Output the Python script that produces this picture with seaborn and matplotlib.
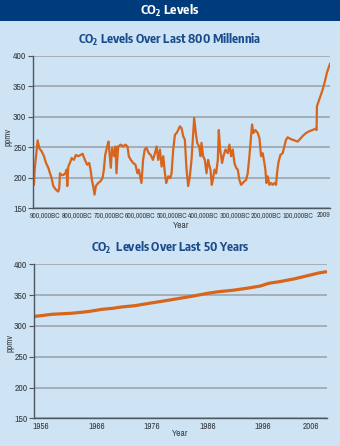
import matplotlib
matplotlib.use("Agg")
import matplotlib.pyplot as plt
import seaborn as sns
import pandas as pd
from matplotlib.patches import Rectangle

# ---------------- data ----------------
# Top chart: CO2 over last 800 millennia (year, negative = BC)
long_years = [
    -936800, -934700, -928300, -925200, -919900, -912500, -905100, -898800, -891400, -886100,
    -880900, -875600, -867200, -859800, -856600, -854500, -849200, -844000, -837600, -833400,
    -831300, -828100, -822800, -817600, -810200, -803900, -796500, -789100, -782700, -775400,
    -768000, -761700, -757400, -753200, -749000, -744800, -740600, -733200, -725800, -719500,
    -715200, -711000, -704700, -700500, -696300, -693100, -688900, -682600, -678300, -675200,
    -669900, -661400, -654100, -646700, -640300, -636100, -629800, -622400, -615000, -608700,
    -604500, -600300, -596000, -590800, -585500, -580300, -572900, -566500, -559500, -553200,
    -548000, -542700, -537400, -532100, -526900, -521600, -517300, -511000, -504700, -500500,
    -495200, -489900, -484600, -479400, -474100, -468800, -463600, -458300, -453000, -447700,
    -442500, -437200, -431900, -428800, -423500, -419300, -413000, -408700, -405600, -400300,
    -395000, -389700, -384500, -381300, -377100, -372900, -369700, -364400, -359100, -353800,
    -350700, -346400, -340100, -335900, -329600, -322200, -316900, -311600, -306400, -301100,
    -295800, -290500, -285300, -280000, -274700, -269400, -264100, -258900, -253600, -248300,
    -245200, -240900, -234600, -227200, -221900, -216600, -211400, -206100, -202900, -199700,
    -195500, -190200, -184900, -179700, -174400, -169100, -166000, -161800, -155500, -148100,
    -142800, -137500, -132300, -121700, -111200, -100600, -95400, -84800, -74300, -63700,
    -53200, -44700, -40500, -39400, -32000, -21500, -14100, -7800, 2009,
]
long_ppmv = [
    188, 213, 246, 261, 248, 243, 235, 224, 216, 207,
    199, 186, 180, 177, 183, 207, 204, 204, 207, 213,
    186, 218, 224, 232, 229, 237, 235, 237, 239, 229,
    221, 224, 213, 196, 186, 172, 186, 191, 194, 199,
    213, 237, 251, 259, 235, 216, 249, 235, 251, 207,
    251, 254, 251, 254, 251, 235, 229, 224, 221, 207,
    213, 202, 191, 229, 246, 249, 240, 237, 229, 240,
    251, 229, 246, 218, 235, 207, 191, 202, 199, 207,
    246, 270, 273, 278, 284, 281, 268, 262, 213, 186,
    202, 229, 273, 298, 273, 257, 251, 235, 257, 235,
    229, 207, 229, 221, 213, 188, 196, 213, 207, 229,
    278, 246, 224, 235, 246, 240, 254, 235, 246, 224,
    216, 213, 196, 188, 191, 194, 196, 207, 235, 268,
    287, 273, 278, 273, 265, 235, 240, 224, 213, 191,
    202, 188, 191, 188, 191, 188, 207, 224, 237, 240,
    251, 262, 266, 263, 261, 259, 262, 268, 273, 276,
    278, 280, 278, 317, 328, 344, 358, 372, 387,
]
long_ticks = [-900000, -800000, -700000, -600000, -500000, -400000, -300000, -200000, -100000, 2009]
long_tick_labels = ["900,000BC", "800,000BC", "700,000BC", "600,000BC", "500,000BC",
                    "400,000BC", "300,000BC", "200,000BC", "100,000BC", "2009"]

# Bottom chart: CO2 over last 50 years
recent_years = [1955, 1958, 1961.5, 1964.5, 1967, 1969, 1970.5, 1973, 1975.5, 1978.5,
                1981, 1983.5, 1986, 1988, 1990.5, 1993, 1995.5, 1997, 1999, 2001.5,
                2004, 2006, 2007.4]
recent_ppmv = [315.5, 318.8, 320.5, 323.2, 326.9, 328.6, 330.7, 332.9, 336.7, 341.0,
               344.8, 348.6, 352.9, 355.6, 357.8, 361.0, 364.8, 369.2, 371.9, 376.2,
               381.6, 386.0, 388.0]
recent_ticks = [1956, 1966, 1976, 1986, 1996, 2006]

y_ticks = [150, 200, 250, 300, 350, 400]

# ---------------- style ----------------
BG = "#cee3f3"
HEADER = "#003b7c"
TITLE_C = "#1a4b8c"
LINE_C = "#d8651c"
GRID_C = "#a0aab3"
SPINE_C = "#4d5760"
TEXT_C = "#3a3f45"
FAM = ["Encode Sans Condensed", "DejaVu Sans"]
NARROW = ["Archivo Narrow", "Encode Sans Condensed", "DejaVu Sans"]

sns.set_style("white")
plt.rcParams["font.family"] = FAM
plt.rcParams["mathtext.default"] = "regular"

W, H = 340, 446
fig = plt.figure(figsize=(W / 100, H / 100), dpi=100, facecolor=BG)

fig.patches.append(Rectangle((0, 1 - 20.7 / H), 1, 20.7 / H, transform=fig.transFigure,
                             facecolor=HEADER, edgecolor="none", zorder=0))
fig.text(0.5, 1 - 11 / H, "CO$_2$ Levels", color="white", fontsize=9.5, fontweight="bold",
         ha="center", va="center")


def style_axes(ax, xsize, ylab_xy, xlab_y):
    ax.set_facecolor(BG)
    for s in ["top", "right"]:
        ax.spines[s].set_visible(False)
    for s in ["left", "bottom"]:
        ax.spines[s].set_color(SPINE_C)
        ax.spines[s].set_linewidth(1.0)
    ax.set_ylim(150, 400)
    ax.set_yticks(y_ticks)
    ax.grid(axis="y", color=GRID_C, lw=1.3)
    ax.grid(axis="x", visible=False)
    ax.set_axisbelow(True)
    ax.tick_params(axis="y", length=3.5, width=0.8, color=SPINE_C, pad=1.5,
                   labelsize=7, labelcolor=TEXT_C, left=True)
    ax.tick_params(axis="x", length=0, pad=3, labelsize=xsize, labelcolor=TEXT_C)
    for lab in ax.get_yticklabels() + ax.get_xticklabels():
        lab.set_family(NARROW)
    ax.set_ylabel("ppmv", fontsize=6.5, color=TEXT_C, family=NARROW)
    ax.set_xlabel("Year", fontsize=6.8, color=TEXT_C, family=NARROW)
    ax.yaxis.set_label_coords(*ylab_xy)
    ax.xaxis.set_label_coords(0.5, xlab_y)


# ---- top chart ----
ax1 = fig.add_axes([33.3 / W, 1 - 208 / H, (330 - 33.3) / W, (208 - 55.7) / H])
df_long = pd.DataFrame({"year": long_years, "ppmv": long_ppmv})
sns.lineplot(data=df_long, x="year", y="ppmv", ax=ax1, color=LINE_C, lw=1.6, estimator=None)
ax1.set_xlim(-939000, 2009)
ax1.set_xticks(long_ticks)
ax1.set_xticklabels(long_tick_labels)
style_axes(ax1, 5.5, (-0.069, 0.466), -0.085)
ax1.get_xticklabels()[-1].set_ha("right")
fig.text(0.5, 1 - 39.5 / H, "CO$_2$ Levels Over Last 800 Millennia", color=TITLE_C,
         fontsize=9, fontweight="bold", ha="center", va="center")

# ---- bottom chart ----
ax2 = fig.add_axes([34.3 / W, 1 - 418.3 / H, (326.7 - 34.3) / W, (418.3 - 264.3) / H])
df_recent = pd.DataFrame({"year": recent_years, "ppmv": recent_ppmv})
sns.lineplot(data=df_recent, x="year", y="ppmv", ax=ax2, color=LINE_C, lw=2.3, estimator=None)
ax2.set_xlim(1954.85, 2007.4)
ax2.set_xticks(recent_ticks)
ax2.set_xticklabels([str(t) for t in recent_ticks])
style_axes(ax2, 6.6, (-0.068, 0.487), -0.069)
ax2.get_xticklabels()[-1].set_ha("right")
fig.text(0.5, 1 - 248 / H, "CO$_2$  Levels Over Last 50 Years", color=TITLE_C,
         fontsize=9, fontweight="bold", ha="center", va="center")

fig.savefig("out.png", dpi=100, facecolor=BG)
